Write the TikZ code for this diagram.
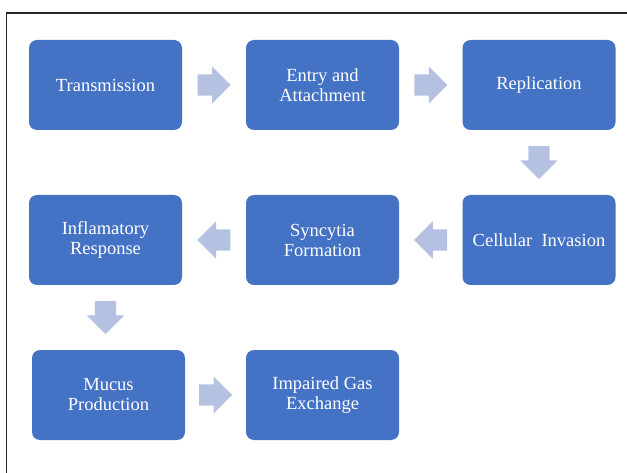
\documentclass[tikz,border=0pt]{standalone}
\usepackage{fontspec}
\setmainfont{Liberation Serif}
\usetikzlibrary{shapes.arrows,calc}
\definecolor{boxblue}{HTML}{4472C4}
\definecolor{arrowblue}{HTML}{B4C1E1}
\tikzset{
  stagebox/.style={draw=none,fill=boxblue,rounded corners=8pt,minimum width=153pt,
    minimum height=90pt,text=white,align=center,inner sep=2pt,
    font=\fontsize{18.5}{20}\selectfont},
  flowarrow/.style={single arrow,fill=arrowblue,draw=none,minimum height=33pt,
    minimum width=37pt,single arrow head extend=8pt,inner xsep=0pt,inner ysep=10.5pt,
    anchor=tail},
  downarrow/.style={flowarrow,shape border rotate=270,inner xsep=10.5pt,inner ysep=0pt},
  leftarrow/.style={flowarrow,shape border rotate=180}
}
\begin{document}
\begin{tikzpicture}[x=1pt,y=-1pt]
  \useasboundingbox (0,0) rectangle (627,473);

  % Frame
  \draw[line width=1.5pt,black!85] (627,13) -- (6.5,13) -- (6.5,473);

  % Stages
  \node[stagebox] (trans) at (105.5,85) {Transmission};
  \node[stagebox] (entry) at (322.5,85) {Entry and\\Attachment};
  \node[stagebox] (repl) at (539,85) {Replication};
  \node[stagebox] (inva) at (539,240) {Cellular\ \ Invasion};
  \node[stagebox] (sync) at (322.5,240) {Syncytia\\Formation};
  \node[stagebox] (infl) at (105.5,240) {Inflamatory\\Response};
  \node[stagebox] (mucus) at (108.5,395) {Mucus\\Production};
  \node[stagebox] (gas) at (322.5,395) {Impaired Gas\\Exchange};

  % Block arrows between stages (placed by their tail)
  \node[flowarrow] (a1) at ($(trans.east)!0.5!(entry.west)+(-16.5,0)$) {};
  \node[flowarrow] (a2) at ($(entry.east)!0.5!(repl.west)+(-16.5,0)$) {};
  \node[downarrow] (a3) at ($(repl.south)!0.5!(inva.north)+(0,-16.5)$) {};
  \node[leftarrow] (a4) at ($(inva.west)!0.5!(sync.east)+(16.5,0)$) {};
  \node[leftarrow] (a5) at ($(sync.west)!0.5!(infl.east)+(16.5,0)$) {};
  \node[downarrow] (a6) at ($(infl.south)!0.5!(infl.south|-mucus.north)+(0,-16.5)$) {};
  \node[flowarrow] (a7) at ($(mucus.east)!0.5!(gas.west)+(-16.5,0)$) {};
\end{tikzpicture}
\end{document}
